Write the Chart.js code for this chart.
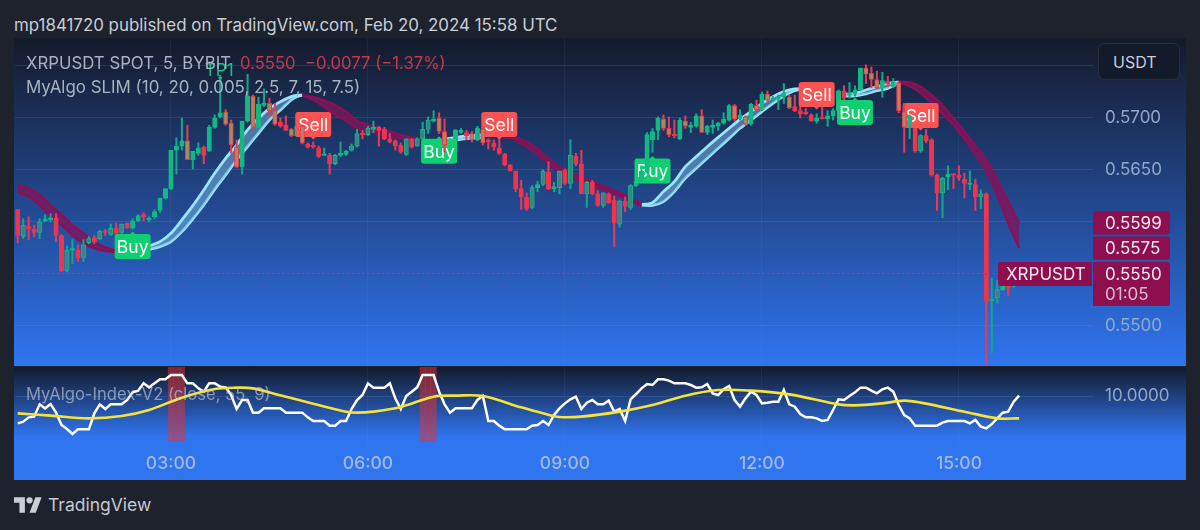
<!DOCTYPE html>
<html>
<head>
<meta charset="utf-8">
<script src="https://cdn.jsdelivr.net/npm/chart.js@4/dist/chart.umd.min.js"></script>
<style>
  html, body { margin: 0; padding: 0; width: 1200px; height: 530px; overflow: hidden; background: #1e222d; font-family: Inter, sans-serif; }
  .abs { position: absolute; white-space: pre; }
  #mainPanel { position: absolute; left: 14px; top: 38px; width: 1172px; height: 328px; background: linear-gradient(180deg, #141a2a 0%, #2f75f0 100%); }
  #indexPanel { position: absolute; left: 14px; top: 367px; width: 1172px; height: 113px; background: linear-gradient(180deg, #131a2b 0%, #2f75f0 62%, #2f75f0 100%); }
  canvas { position: absolute; left: 15px; }
  #usdt { left: 1098px; top: 43px; width: 66px; height: 35px; line-height: 36px; padding-left: 14px; background: #131a2a; border: 1px solid #262f42; border-radius: 7px; color: #c9ced8; font-size: 16px; }
</style>
</head>
<body>
<div id="mainPanel"></div>
<div id="indexPanel"></div>
<canvas id="priceChart" width="1171" height="328" style="top:38px"></canvas>
<canvas id="indexChart" width="1171" height="113" style="top:367px"></canvas>

<div class="abs" style="left:14px;top:15px;font-size:16.9px;color:#c8cdd6">mp1841720 published on TradingView.com, Feb 20, 2024 15:58 UTC</div>
<div class="abs" style="left:26px;top:53px;font-size:16.8px;color:#a9b2c2">XRPUSDT SPOT, 5, BYBIT</div>
<div class="abs" style="left:240px;top:53px;font-size:16.7px;color:#c9364e">0.5550  −0.0077 (−1.37%)</div>
<div class="abs" style="left:26px;top:77px;font-size:16.9px;color:#a9b2c2">MyAlgo SLIM (10, 20, 0.005, 2.5, 7, 15, 7.5)</div>
<div class="abs" style="left:26px;top:384px;font-size:16.6px;color:rgba(200,208,222,.62)">MyAlgo-Index-V2 (close, 55, 9)</div>
<div class="abs" id="usdt">USDT</div>
<svg class="abs" style="left:14px;top:497px" width="28" height="16" viewBox="0 0 36 20"><path fill="#c9cdd4" d="M14 20H7V7H0V0h14v20zM28 20h-8L27.5 0h8L28 20z"/><circle fill="#c9cdd4" cx="20" cy="4" r="4"/></svg>
<div class="abs" style="left:48px;top:494px;font-size:17.5px;color:#c5c9d1">TradingView</div>

<script>
  // candles, one per 5 min bar
  const opens = [.5612,.5586,.5596,.5593,.5590,.5601,.5602,.5604,.5587,.5553,
    .5573,.5573,.5566,.5580,.5585,.5584,.5591,.5588,.5594,.5590,
    .5599,.5594,.5601,.5607,.5602,.5605,.5611,.5623,.5632,.5669,
    .5673,.5678,.5660,.5666,.5672,.5668,.5691,.5701,.5706,.5695,
    .5672,.5653,.5697,.5721,.5691,.5712,.5714,.5707,.5696,.5693,
    .5689,.5683,.5692,.5675,.5674,.5671,.5664,.5664,.5656,.5664,
    .5665,.5669,.5673,.5685,.5684,.5689,.5691,.5689,.5680,.5678,
    .5674,.5665,.5680,.5673,.5680,.5689,.5697,.5700,.5687,.5674,
    .5678,.5686,.5686,.5685,.5679,.5689,.5679,.5676,.5671,.5665,
    .5655,.5649,.5632,.5624,.5614,.5633,.5636,.5648,.5632,.5633,
    .5650,.5637,.5663,.5656,.5627,.5638,.5627,.5616,.5627,.5621,
    .5598,.5620,.5614,.5635,.5640,.5648,.5679,.5688,.5699,.5690,
    .5684,.5680,.5697,.5691,.5692,.5702,.5686,.5691,.5692,.5695,
    .5698,.5712,.5699,.5701,.5694,.5712,.5708,.5723,.5718,.5718,
    .5720,.5720,.5711,.5707,.5705,.5703,.5697,.5700,.5699,.5702,
    .5707,.5726,.5722,.5723,.5727,.5748,.5743,.5737,.5729,.5735,
    .5730,.5734,.5706,.5692,.5692,.5668,.5683,.5679,.5645,.5628,
    .5643,.5646,.5645,.5641,.5636,.5636,.5624,.5627,.5524,.5527,
    .5535,.5540,.5538,.5541];
  const closes = [.5587,.5597,.5593,.5590,.5600,.5603,.5604,.5587,.5553,.5573,
    .5574,.5565,.5578,.5584,.5581,.5591,.5590,.5594,.5589,.5598,
    .5594,.5601,.5606,.5605,.5603,.5610,.5623,.5632,.5669,.5673,
    .5678,.5660,.5668,.5671,.5664,.5691,.5700,.5705,.5694,.5674,
    .5653,.5697,.5721,.5691,.5713,.5714,.5707,.5694,.5692,.5688,
    .5683,.5692,.5676,.5672,.5672,.5663,.5665,.5656,.5664,.5666,
    .5668,.5673,.5685,.5684,.5690,.5691,.5688,.5680,.5677,.5673,
    .5667,.5680,.5672,.5680,.5689,.5698,.5699,.5687,.5674,.5679,
    .5688,.5688,.5683,.5679,.5690,.5676,.5677,.5672,.5666,.5655,
    .5649,.5632,.5624,.5613,.5633,.5636,.5649,.5632,.5634,.5649,
    .5637,.5664,.5656,.5627,.5638,.5627,.5616,.5628,.5618,.5599,
    .5620,.5615,.5635,.5639,.5649,.5684,.5687,.5700,.5690,.5684,
    .5683,.5698,.5692,.5693,.5702,.5686,.5692,.5693,.5695,.5699,
    .5712,.5699,.5703,.5694,.5713,.5708,.5723,.5717,.5719,.5720,
    .5724,.5710,.5707,.5704,.5704,.5697,.5700,.5699,.5702,.5707,
    .5726,.5719,.5723,.5727,.5748,.5742,.5737,.5729,.5736,.5733,
    .5735,.5707,.5691,.5702,.5668,.5683,.5678,.5645,.5628,.5642,
    .5646,.5645,.5642,.5637,.5637,.5624,.5627,.5523,.5526,.5535,
    .5539,.5536,.5541,.5550];
  const highs = [.5612,.5603,.5605,.5597,.5603,.5607,.5608,.5608,.5588,.5577,
    .5583,.5578,.5583,.5586,.5587,.5592,.5593,.5598,.5599,.5598,
    .5599,.5603,.5607,.5609,.5605,.5612,.5623,.5632,.5669,.5681,
    .5700,.5693,.5668,.5676,.5673,.5693,.5703,.5741,.5708,.5698,
    .5679,.5697,.5742,.5722,.5720,.5728,.5719,.5714,.5700,.5702,
    .5690,.5693,.5693,.5676,.5677,.5673,.5671,.5666,.5665,.5677,
    .5669,.5675,.5689,.5688,.5692,.5697,.5692,.5691,.5685,.5679,
    .5676,.5680,.5680,.5681,.5696,.5701,.5707,.5705,.5699,.5680,
    .5689,.5690,.5688,.5687,.5692,.5690,.5680,.5679,.5680,.5666,
    .5655,.5649,.5640,.5628,.5635,.5639,.5650,.5658,.5638,.5649,
    .5651,.5679,.5666,.5669,.5639,.5640,.5630,.5628,.5628,.5625,
    .5621,.5624,.5636,.5640,.5650,.5686,.5690,.5701,.5703,.5701,
    .5698,.5700,.5702,.5696,.5704,.5708,.5693,.5698,.5696,.5705,
    .5713,.5713,.5708,.5702,.5714,.5717,.5725,.5726,.5721,.5722,
    .5733,.5722,.5722,.5717,.5709,.5704,.5704,.5711,.5707,.5709,
    .5727,.5731,.5734,.5731,.5748,.5751,.5749,.5745,.5744,.5740,
    .5738,.5735,.5714,.5703,.5705,.5684,.5689,.5680,.5646,.5643,
    .5654,.5646,.5654,.5647,.5649,.5641,.5631,.5628,.5546,.5544,
    .5552,.5544,.5545,.5552];
  const lows = [.5580,.5584,.5583,.5586,.5584,.5600,.5600,.5581,.5552,.5552,
    .5560,.5562,.5562,.5579,.5579,.5583,.5587,.5587,.5588,.5589,
    .5594,.5593,.5600,.5601,.5600,.5603,.5609,.5622,.5631,.5646,
    .5669,.5660,.5651,.5664,.5656,.5668,.5690,.5700,.5693,.5666,
    .5652,.5646,.5696,.5690,.5690,.5711,.5703,.5693,.5691,.5688,
    .5682,.5682,.5675,.5671,.5671,.5662,.5664,.5646,.5655,.5663,
    .5664,.5668,.5672,.5680,.5683,.5686,.5673,.5679,.5676,.5669,
    .5666,.5664,.5671,.5673,.5679,.5685,.5696,.5685,.5667,.5670,
    .5677,.5685,.5679,.5677,.5678,.5674,.5670,.5669,.5665,.5654,
    .5649,.5629,.5612,.5611,.5613,.5629,.5635,.5631,.5629,.5627,
    .5636,.5632,.5654,.5627,.5614,.5626,.5615,.5614,.5618,.5576,
    .5595,.5610,.5612,.5634,.5639,.5647,.5667,.5679,.5688,.5682,
    .5681,.5679,.5690,.5686,.5691,.5686,.5684,.5685,.5688,.5694,
    .5697,.5697,.5698,.5693,.5693,.5707,.5707,.5716,.5716,.5708,
    .5714,.5709,.5706,.5700,.5703,.5697,.5695,.5699,.5692,.5698,
    .5706,.5717,.5719,.5721,.5726,.5733,.5729,.5728,.5720,.5730,
    .5729,.5705,.5667,.5680,.5667,.5667,.5676,.5644,.5611,.5604,
    .5631,.5632,.5640,.5623,.5631,.5611,.5613,.5462,.5474,.5522,
    .5534,.5529,.5537,.5540];

  // bars whose body looks tan (down) or dull (up) in the picture
  const tanBars = [31,38,39,40,43,46,47,50,52,77,78,83,85,118,119,122,125,131,133,135,137,141,155,156,157,161,162];
  const dullBars = [1,4,9,12,13,15,17,19,58,61,62,64,71,73,74,75,79,94,96,99,101,104,107,110,112,165,169,176,178,179];
  // bars that sit in front of a flag
  const frontBars = [52,78,85,114,115,162,163];

  // trend band rows: [bar, top, bottom]
  const magentaBand1 = [[0,.56356,.56282],[2,.56324,.56244],[4,.5626,.56163],[6,.56163,.56058],[8,.56067,.55971],[10,.55971,.55875],[12,.55891,.55795],[14,.5581,.55747],[16,.55756,.55721],[18,.55724,.55712]];
  const cyanBand1 = [[24,.55769,.55737],[26,.55811,.55763],[28,.55891,.55811],[30,.56019,.55907],[32,.56157,.56029],[34,.56308,.56163],[36,.56468,.56314],[38,.56612,.56452],[40,.5674,.56596],[42,.56885,.56724],[44,.56997,.56853],[46,.57093,.56981],[48,.57157,.57077],[50,.57205,.57173],[51,.57218,.57205],[52,.57221,.57218]];
  const magentaBand2 = [[52,.57221,.57218],[54,.57199,.57173],[56,.57167,.57109],[58,.57125,.57029],[60,.57061,.56974],[62,.56974,.56901],[64,.56933,.56869],[66,.56901,.56846],[68,.56869,.56821],[70,.56837,.56804],[72,.56811,.56795],[73,.56801,.56795]];
  const cyanBand2 = [[78,.56795,.56785],[81,.56821,.56795],[85,.5684,.56814]];
  const magentaBand3 = [[88,.56827,.56811],[90,.56827,.56811],[92,.56795,.56756],[94,.5674,.56686],[96,.5666,.56603],[98,.56564,.56516],[100,.565,.56452],[102,.56452,.56404],[104,.5641,.56365],[106,.56365,.5633],[108,.56324,.56292],[110,.56282,.5625],[112,.56228,.56205],[114,.56179,.56154]];
  const cyanBand3 = [[114,.56167,.5616],[116,.56186,.5616],[118,.56292,.56196],[120,.56388,.56292],[122,.56532,.5642],[124,.56628,.56516],[126,.56724,.56612],[128,.56814,.56708],[130,.56901,.56804],[132,.56987,.56901],[134,.57061,.56981],[136,.57141,.57061],[138,.57205,.57141],[140,.57253,.57212],[142,.57279,.57263],[144,.57282,.57279]];
  const cyanBand4 = [[151,.57228,.57212],[153,.57237,.57212],[155,.57269,.57231],[157,.57301,.57263],[159,.57333,.57285],[161,.57346,.5734]];
  const magentaBand4 = [[161,.57346,.57344],[163,.57343,.57308],[165,.57301,.57237],[168,.57173,.57093],[171,.56997,.56933],[174,.56804,.56724],[177,.56596,.56484],[179,.56404,.5626],[181,.56196,.55987],[183,.5599,.5575]];

  // index pane
  const indexValues = [4.53,4.87,5.73,5.87,8.33,7.53,8.4,6.67,4.2,3.4,
    2.4,3.33,3.33,3.33,6.53,8.33,7.4,8.33,8.33,8.33,
    9.2,10.73,11.07,12.53,11.73,12.53,13.33,13.33,14.2,14.2,
    14.2,12.53,12.53,11.53,10.87,12.53,12.53,11.87,11.73,10.2,
    7.4,9.2,9.2,6.67,6.67,7.53,7.53,7.53,7.53,6.67,
    6.67,6.67,6.67,5.73,5,5,5,4.07,4.07,5,
    5,7.4,9.2,10.2,12.53,11.67,11.67,11.67,12.53,9.53,
    7.4,10,10.87,11.73,14.2,14.2,14.2,10.87,8.33,6.67,
    7.53,7.53,7.53,7.53,9.2,10,5,5,4.07,3.33,
    3.33,3.33,3.33,3.33,4.07,4.2,5,4.2,6.2,7.53,
    8.53,9.33,9.87,7.4,8.67,9.2,8.33,8.33,9.07,6.87,
    7.4,5,9.33,10.4,11.53,12.4,12.2,13.33,13.33,13.07,
    12.53,12.53,12.53,12.2,11.67,11.73,12.4,10.53,10.2,11.33,
    12,9.2,7.87,9.53,10.87,10.2,8.53,8.67,8.87,8.87,
    11.2,8.33,7.87,6.4,5.73,5.73,5.53,5,5.2,7.2,
    9.33,9.2,10,10.73,11.67,11.67,11.07,10.53,11.33,11.67,
    10.87,8.2,6.2,5.53,4.07,4.07,4.07,4.07,4.07,4.67,
    5,5,5,5,4.53,5.2,3.87,3.53,4.4,5.53,
    6.67,6.87,8.87,10.07];
  // signal line rows: [bar, value]
  const signalLine = [[0,6.53],[6,6.07],[13,5.53],[19,6],[24,7.2],[30,9.67],[36,11.4],[40,11.67],[43,11.53],[47,10.4],[54,8.47],[60,6.87],[62,6.67],[65,6.87],[70,7.8],[76,9.87],[80,10.07],[85,10],[92,7.73],[96,6.53],[99,5.8],[103,5.87],[110,6.87],[116,8.2],[122,10.07],[128,11.2],[134,11.07],[141,10.33],[150,8.33],[153,8.13],[158,8.53],[162,9.07],[165,8.67],[173,6.87],[179,5.53],[183,5.53]];
  const alertBars = [28,29,30,74,75,76];

  // buy and sell flags: [text, bar, price]
  const flags = [["Buy",21,.55764],["Sell",54,.56937],["Buy",77,.5668],["Sell",88,.56937],["Buy",116,.5649],["Sell",146,.57226],["Buy",153,.57053],["Sell",165,.57024]];
  const lastPrice = 0.5550;
  const bandTop = 0.5599;
  const bandBottom = 0.5575;
  const gridPrices = [.575,.57,.565,.56,.555,.55];
  const priceLabels = [.57,.565,.55];
  const timeTicks = ["03:00","06:00","09:00","12:00","15:00"];

  // 00:40 is the first bar, the last 13 slots are empty space on the right
  const barTimes = [];
  for (let i = 0; i < 197; i++) {
    const t = 40 + i * 5;
    barTimes.push(String(Math.floor(t / 60)).padStart(2, "0") + ":" + String(t % 60).padStart(2, "0"));
  }

  const green = "#12b886", red = "#f0334e";
  const isUp = i => closes[i] >= opens[i];

  function bodyColor(i) {
    if (tanBars.includes(i)) return "#a98a60";
    if (dullBars.includes(i)) return "#3f7f86";
    return isUp(i) ? green : red;
  }

  function bandDatasets(rows, line, area) {
    const common = { type: "line", borderColor: line, borderWidth: line === cyan[0] ? 2.8 : 2.4, pointRadius: 0, tension: 0.3, order: 5 };
    return [
      { ...common, data: rows.map(r => ({ x: barTimes[r[0]], y: r[1] })), fill: "+1", backgroundColor: area },
      { ...common, data: rows.map(r => ({ x: barTimes[r[0]], y: r[2] })), fill: false }
    ];
  }

  function bodyDataset(keep, order) {
    return {
      type: "bar",
      data: opens.map((o, i) => keep(i) ? [o, closes[i]] : null),
      backgroundColor: opens.map((o, i) => bodyColor(i)),
      borderColor: opens.map((o, i) => isUp(i) ? green : red),
      borderWidth: 1,
      borderSkipped: false,
      barThickness: 4.4,
      minBarLength: 1.5,
      grouped: false,
      order: order
    };
  }

  function wickDataset(keep, order) {
    return {
      type: "bar",
      data: lows.map((l, i) => keep(i) ? [l, highs[i]] : null),
      backgroundColor: opens.map((o, i) => isUp(i) ? "#14a58a" : "#e8395a"),
      barThickness: 1.4,
      grouped: false,
      order: order
    };
  }

  const magenta = ["#8a1058", "rgba(128,20,90,.78)"];
  const cyan = ["#98e6f8", "rgba(118,176,222,.55)"];
  const isFront = i => frontBars.includes(i);

  const flagPlugin = {
    id: "flags",
    // flags go on top of the normal candles, under the front ones
    afterDatasetDraw(chart, args) {
      if (args.index !== 0) return;
      const c = chart.ctx, xs = chart.scales.x, ys = chart.scales.y;
      c.save();
      c.textBaseline = "middle";
      c.textAlign = "center";
      flags.forEach(f => {
        const x = xs.getPixelForValue(f[1]);
        const y = ys.getPixelForValue(f[2]);
        const buy = f[0] === "Buy";
        c.fillStyle = buy ? "#0fd070" : "#fb5252";
        c.beginPath();
        c.roundRect(x - 18, y - 12.5, 36, 25, 3);
        c.fill();
        c.beginPath();
        c.moveTo(x - 3, y + (buy ? -12 : 12));
        c.lineTo(x + 3, y + (buy ? -12 : 12));
        c.lineTo(x, y + (buy ? -15 : 15));
        c.fill();
        c.fillStyle = "#fff";
        c.font = "17.5px Inter";
        c.fillText(f[0], x, y + 1);
      });
      c.restore();
    },
    afterDatasetsDraw(chart) {
      const c = chart.ctx, xs = chart.scales.x, ys = chart.scales.y;
      const area = chart.chartArea;
      const lastY = ys.getPixelForValue(lastPrice);

      // last price line
      c.save();
      c.strokeStyle = "#8c2a66";
      c.lineWidth = 1.2;
      c.setLineDash([1.5, 3.5]);
      c.beginPath();
      c.moveTo(area.left, lastY);
      c.lineTo(area.right, lastY);
      c.stroke();
      c.restore();

      c.save();
      c.textBaseline = "middle";

      // TP1 marker above bar 37
      const tpX = xs.getPixelForValue(37);
      const tpY = ys.getPixelForValue(highs[37]);
      c.fillStyle = "#12c483";
      c.font = "17px Inter";
      c.textAlign = "center";
      c.fillText("TP1", tpX - 1, tpY - 4);
      c.beginPath();
      c.moveTo(tpX - 2.5, tpY + 2);
      c.lineTo(tpX + 2.5, tpY + 2);
      c.lineTo(tpX, tpY + 5);
      c.fill();

      // price pills on the right
      const pillX = area.right, pillW = 77;
      c.font = "17px Inter";
      c.textAlign = "left";
      [bandTop, bandBottom].forEach(p => {
        const y = ys.getPixelForValue(p);
        c.fillStyle = "#8e0f50";
        c.beginPath();
        c.roundRect(pillX, y - 11.5, pillW, 23, [0, 3, 3, 0]);
        c.fill();
        c.fillStyle = "#f5e8ee";
        c.fillText(p.toFixed(4), pillX + 12, y + 1);
      });
      c.fillStyle = "#8e0f50";
      c.beginPath();
      c.roundRect(pillX, lastY - 12, pillW, 44, [0, 3, 3, 0]);
      c.fill();
      c.beginPath();
      c.roundRect(pillX - 95, lastY - 12, 94, 24, [3, 0, 0, 3]);
      c.fill();
      c.fillStyle = "#f5e8ee";
      c.fillText(lastPrice.toFixed(4), pillX + 12, lastY + 1);
      c.fillText("XRPUSDT", pillX - 87, lastY + 1);
      c.fillStyle = "#d9bccb";
      c.fillText("01:05", pillX + 12, lastY + 21);
      c.restore();
    }
  };

  const tickFont = { family: "Inter", size: 17 };

  function hideXLabels(scale) {
    scale.ticks = scale.ticks.filter(t => timeTicks.includes(barTimes[t.value]));
  }

  const sharedX = {
    offset: true,
    grid: { offset: false, drawTicks: false, color: "rgba(150,175,225,.07)" },
    border: { display: false },
    afterBuildTicks: hideXLabels
  };

  const priceChart = new Chart(document.getElementById("priceChart"), {
    data: {
      labels: barTimes,
      datasets: [
        bodyDataset(i => !isFront(i), 0),
        wickDataset(i => !isFront(i), 1),
        bodyDataset(isFront, -2),
        wickDataset(isFront, -1),
        ...bandDatasets(magentaBand1, ...magenta),
        ...bandDatasets(magentaBand2, ...magenta),
        ...bandDatasets(magentaBand3, ...magenta),
        ...bandDatasets(magentaBand4, ...magenta),
        ...bandDatasets(cyanBand1, ...cyan),
        ...bandDatasets(cyanBand2, ...cyan),
        ...bandDatasets(cyanBand3, ...cyan),
        ...bandDatasets(cyanBand4, ...cyan)
      ]
    },
    options: {
      responsive: false,
      animation: false,
      events: [],
      layout: { padding: 0 },
      plugins: { legend: { display: false }, tooltip: { enabled: false } },
      scales: {
        x: {
          ...sharedX,
          ticks: { display: false, autoSkip: false },
          afterFit: s => { s.height = 0; s.paddingLeft = 0; s.paddingRight = 0; }
        },
        y: {
          position: "right",
          min: 0.54615,
          max: 0.57769,
          grid: { drawTicks: false, color: "rgba(150,175,225,.15)" },
          border: { display: false },
          afterBuildTicks: s => { s.ticks = gridPrices.map(v => ({ value: v })); },
          ticks: {
            color: "#94a7c8",
            font: tickFont,
            padding: 12,
            callback: v => priceLabels.includes(v) ? v.toFixed(4) : ""
          },
          afterFit: s => { s.width = 93; s.paddingTop = 0; s.paddingBottom = 0; }
        }
      }
    },
    plugins: [flagPlugin]
  });

  const indexChart = new Chart(document.getElementById("indexChart"), {
    data: {
      labels: barTimes,
      datasets: [
        {
          type: "line",
          data: signalLine.map(r => ({ x: barTimes[r[0]], y: r[1] })),
          borderColor: "#f5e23b",
          borderWidth: 2.6,
          pointRadius: 0,
          tension: 0.35,
          order: 0
        },
        {
          type: "line",
          data: indexValues,
          borderColor: "#ffffff",
          borderWidth: 2.5,
          pointRadius: 0,
          tension: 0,
          order: 1
        },
        {
          type: "bar",
          data: barTimes.map((t, i) => alertBars.includes(i) ? [1, 15.8] : null),
          backgroundColor: "rgba(232,48,48,.5)",
          barPercentage: 1,
          categoryPercentage: 1,
          grouped: false,
          order: 2
        }
      ]
    },
    options: {
      responsive: false,
      animation: false,
      events: [],
      layout: { padding: 0 },
      plugins: { legend: { display: false }, tooltip: { enabled: false } },
      scales: {
        x: {
          ...sharedX,
          ticks: {
            autoSkip: false,
            maxRotation: 0,
            padding: 8,
            color: "#a4b8dc",
            font: { family: "Inter", size: 17.5, weight: "500" }
          },
          afterFit: s => { s.height = 35; s.paddingLeft = 0; s.paddingRight = 0; }
        },
        y: {
          position: "right",
          min: 0.2,
          max: 15.8,
          grid: { drawTicks: false, color: "rgba(150,175,225,.15)" },
          border: { display: false },
          afterBuildTicks: s => { s.ticks = [{ value: 10 }]; },
          ticks: {
            color: "#94a7c8",
            font: tickFont,
            padding: 12,
            callback: v => v.toFixed(4)
          },
          afterFit: s => { s.width = 93; s.paddingTop = 0; s.paddingBottom = 0; }
        }
      }
    }
  });
</script>
</body>
</html>
